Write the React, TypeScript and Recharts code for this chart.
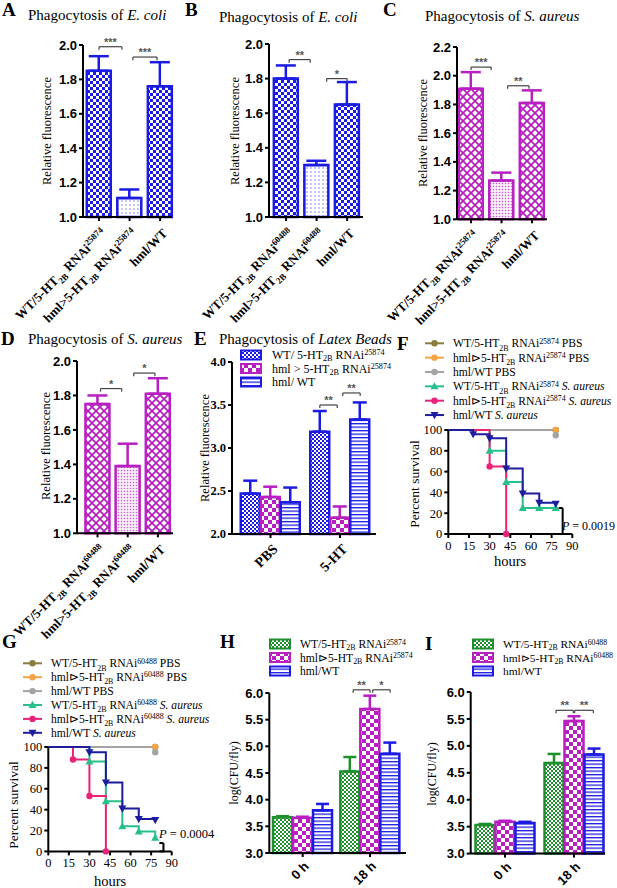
import React from "react"
import { BarChart, Bar, Cell, XAxis, YAxis, ErrorBar, ReferenceLine, LineChart, Line } from "recharts"

const BLUE = "#1b1be3"
const MAGENTA = "#b81fc0"
const GREEN = "#1f8f2e"
const SERIF = "'Liberation Serif', 'Times New Roman', serif"
const SANS = "'Liberation Sans', Arial, sans-serif"

// ---------- A-D: phagocytosis, three genotypes ----------
const labels25874 = ["WT/5-HT_{2B} RNAi^{25874}", "hml>5-HT_{2B} RNAi^{25874}", "hml/WT"]
const labels60488 = ["WT/5-HT_{2B} RNAi^{60488}", "hml>5-HT_{2B} RNAi^{60488}", "hml/WT"]

const ecoli25874Mean = [1.85, 1.11, 1.76]
const ecoli25874Sem = [0.085, 0.05, 0.14]
const ecoli60488Mean = [1.8, 1.3, 1.65]
const ecoli60488Sem = [0.076, 0.025, 0.13]
const saureus25874Mean = [1.91, 1.27, 1.81]
const saureus25874Sem = [0.115, 0.055, 0.088]
const saureus60488Mean = [1.75, 1.39, 1.81]
const saureus60488Sem = [0.05, 0.13, 0.09]

const relTicks = [1.0, 1.2, 1.4, 1.6, 1.8, 2.0]
const relTicksC = [1.0, 1.2, 1.4, 1.6, 1.8, 2.0, 2.2]

type Sig = [number, number, number, string]
const sigA: Sig[] = [[1.0, 1.75, 1.99, "***"], [2.11, 2.9, 1.93, "***"]]
const sigB: Sig[] = [[1.1, 1.79, 1.91, "**"], [2.33, 3.0, 1.8, "*"]]
const sigC: Sig[] = [[1.0, 1.66, 2.06, "***"], [2.2, 2.9, 1.93, "**"]]
const sigD: Sig[] = [[1.1, 1.8, 1.84, "*"], [2.2, 2.9, 1.93, "*"]]

// ---------- E: latex beads ----------
const beadGroups = ["PBS", "5-HT"]
const beadNames = ["WT/ 5-HT_{2B} RNAi^{25874}", "hml > 5-HT_{2B} RNAi^{25874}", "hml/ WT"]
const beadWtMean = [2.47, 3.19]
const beadWtSem = [0.15, 0.24]
const beadKdMean = [2.43, 2.19]
const beadKdSem = [0.12, 0.13]
const beadHmlMean = [2.37, 3.33]
const beadHmlSem = [0.17, 0.2]
const beadTicks = [2.0, 2.5, 3.0, 3.5, 4.0]
const sigE: Sig[] = [[1.71, 1.96, 3.5, "**"], [2.04, 2.29, 3.64, "**"]]

// ---------- H, I: bacterial load ----------
const cfuGroups = ["0 h", "18 h"]
const cfuNames25874 = ["WT/5-HT_{2B} RNAi^{25874}", "hml\u22b35-HT_{2B} RNAi^{25874}", "hml/WT"]
const cfuNames60488 = ["WT/5-HT_{2B} RNAi^{60488}", "hml\u22b35-HT_{2B} RNAi^{60488}", "hml/WT"]
const cfuH_WtMean = [3.67, 4.53]
const cfuH_WtSem = [0.02, 0.27]
const cfuH_KdMean = [3.66, 5.7]
const cfuH_KdSem = [0.02, 0.25]
const cfuH_HmlMean = [3.8, 4.86]
const cfuH_HmlSem = [0.12, 0.21]
const cfuI_WtMean = [3.53, 4.68]
const cfuI_WtSem = [0.02, 0.17]
const cfuI_KdMean = [3.59, 5.46]
const cfuI_KdSem = [0.02, 0.09]
const cfuI_HmlMean = [3.57, 4.84]
const cfuI_HmlSem = [0.02, 0.11]
const cfuTicks = [3.0, 3.5, 4.0, 4.5, 5.0, 5.5, 6.0]
const sigH: Sig[] = [[1.75, 2.0, 6.06, "**"], [2.04, 2.3, 6.06, "*"]]
const sigI: Sig[] = [[1.74, 1.99, 5.66, "**"], [2.01, 2.28, 5.66, "**"]]

// ---------- F, G: survival ----------
const hourTicks = [0, 15, 30, 45, 60, 75, 90]
const survTicks = [0, 20, 40, 60, 80, 100]
const kmNames25874 = [
  "WT/5-HT_{2B} RNAi^{25874} PBS",
  "hml\u22b35-HT_{2B} RNAi^{25874} PBS",
  "hml/WT PBS",
  "WT/5-HT_{2B} RNAi^{25874} ~{S. aureus}",
  "hml\u22b35-HT_{2B} RNAi^{25874} ~{S. aureus}",
  "hml/WT ~{S. aureus}",
]
const kmNames60488 = [
  "WT/5-HT_{2B} RNAi^{60488} PBS",
  "hml\u22b35-HT_{2B} RNAi^{60488} PBS",
  "hml/WT PBS",
  "WT/5-HT_{2B} RNAi^{60488} ~{S. aureus}",
  "hml\u22b35-HT_{2B} RNAi^{60488} ~{S. aureus}",
  "hml/WT ~{S. aureus}",
]
const kmColors = ["#8a7c3c", "#f4a445", "#a3a3a3", "#27c08a", "#ea2379", "#1d1d9e"]
const kmShapes = ["circle", "circle", "circle", "up", "circle", "down"]

const kmF_wtPbs = [[0, 100], [78, 100]]
const kmF_kdPbs = [[0, 100], [78, 100]]
const kmF_hmlPbs = [[0, 100], [78, 95]]
const kmF_wtSa = [[0, 100], [30, 80], [42, 50], [54, 25], [66, 25], [78, 25]]
const kmF_kdSa = [[0, 100], [30, 65], [42, 0]]
const kmF_hmlSa = [[0, 100], [18, 96], [30, 92], [42, 63], [54, 39], [66, 30], [78, 29]]

const kmG_wtPbs = [[0, 100], [78, 100]]
const kmG_kdPbs = [[0, 100], [78, 100]]
const kmG_hmlPbs = [[0, 100], [78, 95]]
const kmG_wtSa = [[0, 100], [30, 86], [42, 48], [54, 24], [66, 19], [78, 13]]
const kmG_kdSa = [[0, 100], [18, 88], [30, 53], [42, 0]]
const kmG_hmlSa = [[0, 100], [30, 95], [42, 66], [54, 41], [66, 31], [78, 30]]

// P-value brackets: [hour start, hour end, survival top]
const pBracketF = [80, 83, 25]
const pBracketG = [81, 84, 8]

// ---------- helpers ----------
function rich(src: string, size: number, raise = 0.38, drop = 0.28) {
  const parts = src.split(/(_\{[^}]*\}|\^\{[^}]*\}|~\{[^}]*\})/).filter(Boolean)
  let shift = 0
  return parts.map((p, i) => {
    let kind = "n"
    let txt = p
    if (p.startsWith("_{")) { kind = "sub"; txt = p.slice(2, -1) }
    else if (p.startsWith("^{")) { kind = "sup"; txt = p.slice(2, -1) }
    else if (p.startsWith("~{")) { kind = "it"; txt = p.slice(2, -1) }
    const target = kind === "sub" ? size * drop : kind === "sup" ? -size * raise : 0
    const dy = target - shift
    shift = target
    const small = kind === "sub" || kind === "sup"
    return (
      <tspan key={i} dy={dy} fontSize={small ? size * 0.68 : size} fontStyle={kind === "it" ? "italic" : undefined}>
        {txt}
      </tspan>
    )
  })
}

function marker(shape: string, cx: number, cy: number, color: string, key?: string) {
  if (shape === "up") return <polygon key={key} points={`${cx},${cy - 4.2} ${cx - 4},${cy + 3} ${cx + 4},${cy + 3}`} fill={color} />
  if (shape === "down") return <polygon key={key} points={`${cx},${cy + 4.2} ${cx - 4},${cy - 3} ${cx + 4},${cy - 3}`} fill={color} />
  return <circle key={key} cx={cx} cy={cy} r={3.2} fill={color} />
}

function SlantTick(props: any) {
  const { x, y, payload, labels, family, size, dx, dy } = props
  const label = labels[Math.round(payload.value) - 1] ?? ""
  return (
    <g transform={`translate(${x + dx},${y + dy})`}>
      <text transform="rotate(-45)" textAnchor="end" fontFamily={family} fontWeight="bold" fontSize={size} fill="#000" style={{ whiteSpace: "pre" }}>
        {rich(label, size)}
      </text>
    </g>
  )
}

const axisStyle = { stroke: "#000", strokeWidth: 2 }

type Series = { mean: number[]; sem: number[]; color: string; fills: string[] }

function bracketLines(list: Sig[], hook: number, id: string) {
  return list.flatMap(([x1, x2, y, stars], i) => [
    <ReferenceLine key={`${id}h${i}`} segment={[{ x: x1, y }, { x: x2, y }]} stroke="#444" strokeWidth={1.2} ifOverflow="visible"
      label={{ value: stars, position: "top", offset: 1, fill: "#555", fontSize: 11, fontFamily: SANS, fontWeight: "bold" }} />,
    <ReferenceLine key={`${id}l${i}`} segment={[{ x: x1, y }, { x: x1, y: y - hook }]} stroke="#444" strokeWidth={1.2} ifOverflow="visible" />,
    <ReferenceLine key={`${id}r${i}`} segment={[{ x: x2, y }, { x: x2, y: y - hook }]} stroke="#444" strokeWidth={1.2} ifOverflow="visible" />,
  ])
}

function BarPanel(props: {
  rect: number[]; cl: number; xDomain: number[]; yDomain: number[]; yTicks: number[]
  labels: string[]; series: Series[]; barSize: number; barGap: number; cap: number
  sig: Sig[]; hook: number; yFont: string; ySize: number; xFont: string; xSize: number
  xAxisH: number; tickDx: number; tickDy: number; id: string
}) {
  const { rect, cl, series, labels } = props
  const [px0, py0, px1, py1] = rect
  const top = 30
  const right = 12
  const rows = labels.map((_, i) => {
    const row: any = { x: i + 1 }
    series.forEach((s, k) => {
      row[`m${k}`] = s.mean[i]
      row[`e${k}`] = [0, s.sem[i]]
    })
    return row
  })
  return (
    <div style={{ position: "absolute", left: cl, top: py0 - top }}>
      <BarChart width={px1 - cl + right} height={py1 - py0 + top + props.xAxisH} data={rows}
        margin={{ top, right, bottom: 0, left: 0 }} barGap={props.barGap}>
        <XAxis type="number" dataKey="x" domain={props.xDomain} ticks={labels.map((_, i) => i + 1)} interval={0}
          height={props.xAxisH} tickSize={4} tickMargin={2} axisLine={axisStyle} tickLine={axisStyle}
          tick={(p: any) => <SlantTick {...p} labels={labels} family={props.xFont} size={props.xSize} dx={props.tickDx} dy={props.tickDy} />} />
        <YAxis type="number" domain={props.yDomain} ticks={props.yTicks} interval={0} width={px0 - cl}
          tickSize={4} tickMargin={2} axisLine={axisStyle} tickLine={axisStyle}
          tick={{ fill: "#000", fontSize: props.ySize, fontFamily: props.yFont, fontWeight: "bold" }}
          tickFormatter={(v: number) => v.toFixed(1)} />
        {series.map((s, k) => (
          <Bar key={k} dataKey={`m${k}`} barSize={props.barSize} stroke={s.color} strokeWidth={2.5} fill={`url(#${s.fills[0]})`} isAnimationActive={false}>
            {rows.map((_, i) => <Cell key={i} fill={`url(#${s.fills[i % s.fills.length]})`} />)}
            <ErrorBar dataKey={`e${k}`} direction="y" width={props.cap} stroke={s.color} strokeWidth={2.5} />
          </Bar>
        ))}
        {bracketLines(props.sig, props.hook, props.id)}
      </BarChart>
    </div>
  )
}

function kmDot(shape: string, color: string) {
  return (p: any) => {
    const { cx, cy, index } = p
    if (index === 0 || cx == null || cy == null) return <g key={`d${index}`} />
    return marker(shape, cx, cy, color, `d${index}`)
  }
}

function KmPanel(props: { rect: number[]; cl: number; curves: number[][][]; bracket: number[] }) {
  const [px0, py0, px1, py1] = props.rect
  const cl = props.cl
  const top = 10
  const right = 12
  const xh = 30
  const [b0, b1, bTop] = props.bracket
  const pStyle = { stroke: "#000", strokeWidth: 2, ifOverflow: "visible" as const }
  return (
    <div style={{ position: "absolute", left: cl, top: py0 - top }}>
      <LineChart width={px1 - cl + right} height={py1 - py0 + top + xh} margin={{ top, right, bottom: 0, left: 0 }}>
        <XAxis type="number" dataKey="t" domain={[0, 90]} ticks={hourTicks} interval={0} height={xh}
          tickSize={4} tickMargin={3} axisLine={axisStyle} tickLine={axisStyle}
          tick={{ fill: "#000", fontSize: 12.5, fontFamily: SERIF }} />
        <YAxis type="number" domain={[0, 100]} ticks={survTicks} interval={0} width={px0 - cl}
          tickSize={4} tickMargin={2} axisLine={axisStyle} tickLine={axisStyle}
          tick={{ fill: "#000", fontSize: 12.5, fontFamily: SERIF }} />
        {props.curves.map((c, k) => (
          <Line key={k} data={c.map(([t, s]) => ({ t, s }))} dataKey="s" type="stepAfter" stroke={kmColors[k]}
            strokeWidth={2} dot={kmDot(kmShapes[k], kmColors[k])} activeDot={false} isAnimationActive={false} />
        ))}
        <ReferenceLine segment={[{ x: b0, y: bTop }, { x: b1, y: bTop }]} {...pStyle} />
        <ReferenceLine segment={[{ x: b1, y: bTop }, { x: b1, y: 0 }]} {...pStyle} />
        <ReferenceLine segment={[{ x: b0, y: 0 }, { x: b1, y: 0 }]} {...pStyle} />
      </LineChart>
    </div>
  )
}

function Patterns() {
  return (
    <defs>
      <pattern id="pChkBlue" width="6" height="6" patternUnits="userSpaceOnUse">
        <rect width="6" height="6" fill="#fff" />
        <rect width="3" height="3" fill={BLUE} />
        <rect x="3" y="3" width="3" height="3" fill={BLUE} />
      </pattern>
      <pattern id="pDotBlue" width="4" height="4" patternUnits="userSpaceOnUse">
        <rect width="4" height="4" fill="#fff" />
        <circle cx="2" cy="2" r="0.7" fill={BLUE} opacity="0.7" />
      </pattern>
      <pattern id="pLatMag" width="8" height="8" patternUnits="userSpaceOnUse">
        <rect width="8" height="8" fill="#fff" />
        <path d="M0,0 L8,8 M8,0 L0,8" stroke={MAGENTA} strokeWidth="1.8" />
      </pattern>
      <pattern id="pDotMag" width="3" height="3" patternUnits="userSpaceOnUse">
        <rect width="3" height="3" fill="#fbeefb" />
        <circle cx="1.5" cy="1.5" r="0.8" fill="#c660cb" />
      </pattern>
      <pattern id="pFineBlue" width="4" height="4" patternUnits="userSpaceOnUse">
        <rect width="4" height="4" fill={BLUE} />
        <rect width="2" height="2" fill="#fff" />
        <rect x="2" y="2" width="2" height="2" fill="#fff" />
      </pattern>
      <pattern id="pChkMag" width="8" height="8" patternUnits="userSpaceOnUse">
        <rect width="8" height="8" fill="#fff" />
        <rect width="4" height="4" fill={MAGENTA} />
        <rect x="4" y="4" width="4" height="4" fill={MAGENTA} />
      </pattern>
      <pattern id="pStripe" width="4" height="3.5" patternUnits="userSpaceOnUse">
        <rect width="4" height="3.5" fill="#fff" />
        <rect width="4" height="1.3" fill={BLUE} />
      </pattern>
      <pattern id="pFineGreen" width="4" height="4" patternUnits="userSpaceOnUse">
        <rect width="4" height="4" fill={GREEN} />
        <rect width="2" height="2" fill="#fff" />
        <rect x="2" y="2" width="2" height="2" fill="#fff" />
      </pattern>
    </defs>
  )
}

function Letter({ x, y, c }: { x: number; y: number; c: string }) {
  return <text x={x} y={y} fontFamily={SERIF} fontWeight="bold" fontSize={19}>{c}</text>
}

function Title({ x, y, t }: { x: number; y: number; t: string }) {
  return <text x={x} y={y} fontFamily={SERIF} fontSize={15} style={{ whiteSpace: "pre" }}>{rich(t, 15)}</text>
}

function VText({ cx, cy, size, t }: { cx: number; cy: number; size: number; t: string }) {
  return (
    <text transform={`translate(${cx},${cy}) rotate(-90)`} textAnchor="middle" dy="0.35em" fontFamily={SERIF} fontSize={size}>
      {t}
    </text>
  )
}

function BarLegend({ x, y, gap, dx, size, names, colors, fills }: { x: number; y: number; gap: number; dx: number; size: number; names: string[]; colors: string[]; fills: string[] }) {
  return (
    <g>
      {names.map((n, i) => {
        const cy = y + i * gap
        return (
          <g key={i}>
            <rect x={x} y={cy - 4.5} width={20} height={9} fill={`url(#${fills[i]})`} stroke={colors[i]} strokeWidth={2} />
            <text x={x + dx} y={cy + 4} fontFamily={SERIF} fontSize={size} style={{ whiteSpace: "pre" }}>{rich(n, size, 0.3, 0.2)}</text>
          </g>
        )
      })}
    </g>
  )
}

function KmLegend({ x, y, gap, names }: { x: number; y: number; gap: number; names: string[] }) {
  return (
    <g>
      {names.map((n, i) => {
        const cy = y + i * gap
        return (
          <g key={i}>
            <line x1={x} x2={x + 19} y1={cy} y2={cy} stroke={kmColors[i]} strokeWidth={2} />
            {marker(kmShapes[i], x + 9.5, cy, kmColors[i])}
            <text x={x + 28} y={cy + 4} fontFamily={SERIF} fontSize={11.6} style={{ whiteSpace: "pre" }}>{rich(n, 11.6, 0.32)}</text>
          </g>
        )
      })}
    </g>
  )
}

export default function App() {
  const blueSeries = (mean: number[], sem: number[]): Series[] => [{ mean, sem, color: BLUE, fills: ["pChkBlue", "pDotBlue", "pChkBlue"] }]
  const magSeries = (mean: number[], sem: number[]): Series[] => [{ mean, sem, color: MAGENTA, fills: ["pLatMag", "pDotMag", "pLatMag"] }]
  const abcd = { barSize: 24, barGap: 0, cap: 10, yFont: SANS, ySize: 13, xFont: SERIF, xSize: 13, xAxisH: 115, tickDx: 8, tickDy: 11 }
  const grouped = (names: string[], means: number[][], sems: number[][], colors: string[], fills: string[]): Series[] =>
    names.map((_, k) => ({ mean: means[k], sem: sems[k], color: colors[k], fills: [fills[k]] }))
  const beadColors = [BLUE, MAGENTA, BLUE]
  const beadFills = ["pFineBlue", "pChkMag", "pStripe"]
  const cfuColors = [GREEN, MAGENTA, BLUE]
  const cfuFills = ["pFineGreen", "pChkMag", "pStripe"]

  return (
    <div style={{ position: "absolute", left: 0, top: 0, width: 617, height: 888, background: "#fff", overflow: "hidden" }}>
      <BarPanel id="A" rect={[83, 45, 172, 217]} cl={0} xDomain={[0.475, 3.39]} yDomain={[1, 2]} yTicks={relTicks}
        labels={labels25874} series={blueSeries(ecoli25874Mean, ecoli25874Sem)} sig={sigA} hook={0.018} {...abcd} />
      <BarPanel id="B" rect={[269, 44.3, 363, 217.3]} cl={185} xDomain={[0.44, 3.52]} yDomain={[1, 2]} yTicks={relTicks}
        labels={labels60488} series={blueSeries(ecoli60488Mean, ecoli60488Sem)} sig={sigB} hook={0.018} {...abcd} />
      <BarPanel id="C" rect={[457, 46.7, 547, 219]} cl={375} xDomain={[0.54, 3.49]} yDomain={[1, 2.2]} yTicks={relTicksC}
        labels={labels25874} series={magSeries(saureus25874Mean, saureus25874Sem)} sig={sigC} hook={0.021} {...abcd} />
      <BarPanel id="D" rect={[77, 361, 173, 533.3]} cl={0} xDomain={[0.32, 3.5]} yDomain={[1, 2]} yTicks={relTicks}
        labels={labels60488} series={magSeries(saureus60488Mean, saureus60488Sem)} sig={sigD} hook={0.018} {...abcd} />
      <BarPanel id="E" rect={[232, 362, 376, 534]} cl={200} xDomain={[0.446, 2.518]} yDomain={[2, 4]} yTicks={beadTicks}
        labels={beadGroups}
        series={grouped(beadNames, [beadWtMean, beadKdMean, beadHmlMean], [beadWtSem, beadKdSem, beadHmlSem], beadColors, beadFills)}
        sig={sigE} hook={0.035} barSize={19} barGap={1} cap={7} yFont={SERIF} ySize={12.5} xFont={SERIF} xSize={14}
        xAxisH={60} tickDx={8} tickDy={10} />
      <BarPanel id="H" rect={[269.3, 693.3, 406, 853.3]} cl={222} xDomain={[0.504, 2.535]} yDomain={[3, 6]} yTicks={cfuTicks}
        labels={cfuGroups}
        series={grouped(cfuNames25874, [cfuH_WtMean, cfuH_KdMean, cfuH_HmlMean], [cfuH_WtSem, cfuH_KdSem, cfuH_HmlSem], cfuColors, cfuFills)}
        sig={sigH} hook={0.055} barSize={19} barGap={1} cap={6.5} yFont={SANS} ySize={13} xFont={SANS} xSize={13}
        xAxisH={34} tickDx={7} tickDy={8} />
      <BarPanel id="I" rect={[470.7, 691.7, 605, 853.3]} cl={425} xDomain={[0.503, 2.449]} yDomain={[3, 6]} yTicks={cfuTicks}
        labels={cfuGroups}
        series={grouped(cfuNames60488, [cfuI_WtMean, cfuI_KdMean, cfuI_HmlMean], [cfuI_WtSem, cfuI_KdSem, cfuI_HmlSem], cfuColors, cfuFills)}
        sig={sigI} hook={0.055} barSize={19} barGap={1} cap={6.5} yFont={SANS} ySize={13} xFont={SANS} xSize={13}
        xAxisH={34} tickDx={7} tickDy={8} />
      <KmPanel rect={[448.3, 430, 572.3, 534]} cl={403}
        curves={[kmF_wtPbs, kmF_kdPbs, kmF_hmlPbs, kmF_wtSa, kmF_kdSa, kmF_hmlSa]} bracket={pBracketF} />
      <KmPanel rect={[48.3, 747.3, 171.7, 851.7]} cl={0}
        curves={[kmG_wtPbs, kmG_kdPbs, kmG_hmlPbs, kmG_wtSa, kmG_kdSa, kmG_hmlSa]} bracket={pBracketG} />

      <svg width={617} height={888} style={{ position: "absolute", left: 0, top: 0, pointerEvents: "none" }}>
        <Patterns />
        <Letter x={2} y={16} c="A" />
        <Letter x={185} y={16} c="B" />
        <Letter x={383} y={16} c="C" />
        <Letter x={1} y={345} c="D" />
        <Letter x={194} y={345} c="E" />
        <Letter x={397} y={350} c="F" />
        <Letter x={2} y={648} c="G" />
        <Letter x={220} y={648} c="H" />
        <Letter x={425} y={650} c="I" />

        <Title x={28} y={20} t="Phagocytosis of ~{E. coli}" />
        <Title x={219} y={22} t="Phagocytosis of ~{E. coli}" />
        <Title x={425} y={21} t="Phagocytosis of ~{S. aureus}" />
        <Title x={28} y={344} t="Phagocytosis of ~{S. aureus}" />
        <Title x={219} y={344} t="Phagocytosis of ~{Latex Beads}" />

        <VText cx={47} cy={131} size={12.5} t="Relative fluorescence" />
        <VText cx={235} cy={131} size={12.5} t="Relative fluorescence" />
        <VText cx={423} cy={133} size={12.5} t="Relative fluorescence" />
        <VText cx={46} cy={446} size={12.5} t="Relative fluorescence" />
        <VText cx={205} cy={448} size={12.5} t="Relative fluorescence" />
        <VText cx={414} cy={484} size={13.5} t="Percent survival" />
        <VText cx={13} cy={805} size={13.5} t="Percent survival" />
        <VText cx={234} cy={773} size={12} t="log(CFU/fly)" />
        <VText cx={432} cy={774} size={12} t="log(CFU/fly)" />

        <text x={510} y={566} textAnchor="middle" fontFamily={SERIF} fontSize={14.5}>hours</text>
        <text x={110} y={886} textAnchor="middle" fontFamily={SERIF} fontSize={14.5}>hours</text>

        <text x={562} y={530} fontFamily={SERIF} fontSize={12} style={{ whiteSpace: "pre" }}><tspan fontStyle="italic">P</tspan> = 0.0019</text>
        <text x={159} y={837.5} fontFamily={SERIF} fontSize={12.5} style={{ whiteSpace: "pre" }}><tspan fontStyle="italic">P</tspan> = 0.0004</text>

        <BarLegend x={241} y={355} gap={13.5} dx={31} size={12} names={beadNames} colors={beadColors} fills={beadFills} />
        <BarLegend x={270} y={644} gap={13.5} dx={30} size={11.6} names={cfuNames25874} colors={cfuColors} fills={cfuFills} />
        <BarLegend x={473} y={644} gap={13.5} dx={30} size={11.4} names={cfuNames60488} colors={cfuColors} fills={cfuFills} />

        <KmLegend x={425} y={343.3} gap={14.35} names={kmNames25874} />
        <KmLegend x={23} y={663.3} gap={13.9} names={kmNames60488} />
      </svg>
    </div>
  )
}
